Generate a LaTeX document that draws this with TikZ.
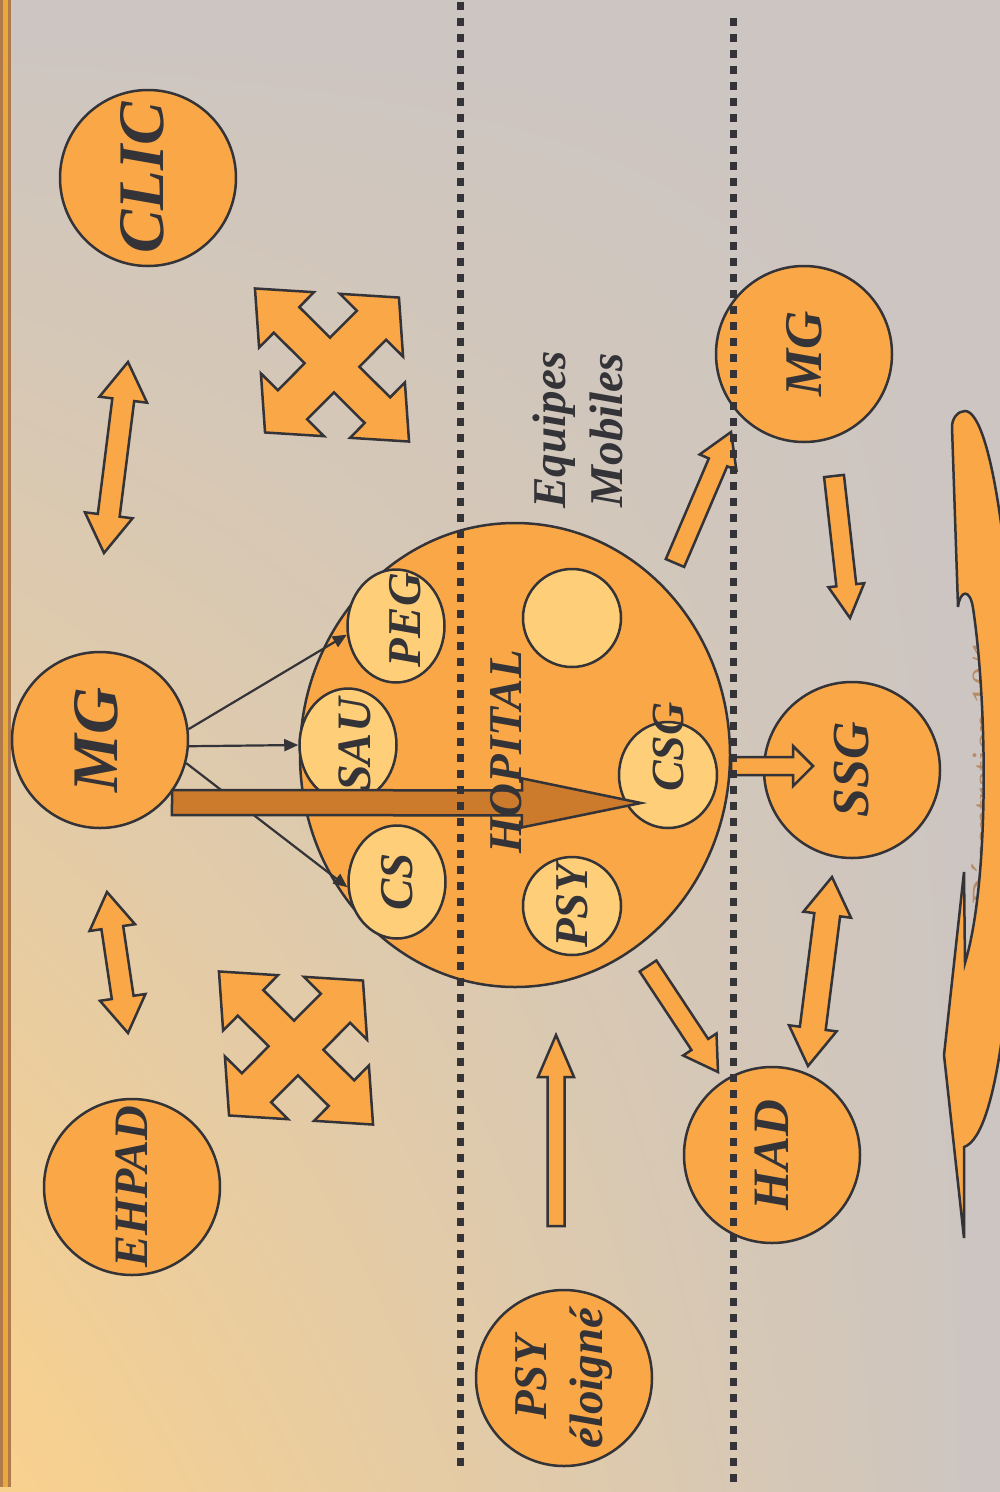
\documentclass[tikz,border=0pt]{standalone}
\usepackage{fontspec}
\setmainfont{Liberation Serif}
\usetikzlibrary{calc,shapes.geometric,arrows.meta,shadings}
\definecolor{bgGrey}{HTML}{CCC5C2}
\definecolor{bgOrange}{HTML}{F9D18D}
\definecolor{ringOrange}{HTML}{FAA747}
\definecolor{ringYellow}{HTML}{FECE78}
\definecolor{lineDark}{HTML}{333338}
\definecolor{arrowBrown}{HTML}{CC7A2B}
\definecolor{barBrown}{HTML}{B07A4C}
\definecolor{barGold}{HTML}{E8AA3A}
\definecolor{footBrown}{HTML}{B88A66}
\newcommand{\fatarrow}[6][blockarrow]{
	\path ($(#3)!#6!(#2)$) coordinate (fa-h);
	\filldraw[#1] ($(#2)!#4!90:(#3)$) -- ($(fa-h)!#4!90:(#3)$) -- ($(fa-h)!#5!90:(#3)$) -- (#3)
		-- ($(fa-h)!#5!-90:(#3)$) -- ($(fa-h)!#4!-90:(#3)$) -- ($(#2)!#4!-90:(#3)$) -- cycle;
}
\newcommand{\fatdblarrow}[5]{
	\path ($(#1)!#5!(#2)$) coordinate (fa-a) ($(#2)!#5!(#1)$) coordinate (fa-b);
	\filldraw[blockarrow] (#1) -- ($(fa-a)!#4!90:(#2)$) -- ($(fa-a)!#3!90:(#2)$)
		-- ($(fa-b)!#3!90:(#2)$) -- ($(fa-b)!#4!90:(#2)$) -- (#2)
		-- ($(fa-b)!#4!-90:(#2)$) -- ($(fa-b)!#3!-90:(#2)$)
		-- ($(fa-a)!#3!-90:(#2)$) -- ($(fa-a)!#4!-90:(#2)$) -- cycle;
}
\newcommand{\crossarrows}[1]{
	\begin{scope}[shift={(#1)}, cm={1,-0.063,-0.07,1,(0,0)}, scale=72]
	\filldraw[blockarrow] (-1,1) -- (-0.18,1) -- (-0.4,0.78) -- (0,0.38) -- (0.4,0.78) -- (0.18,1)
		-- (1,1) -- (1,0.18) -- (0.78,0.4) -- (0.38,0) -- (0.78,-0.4) -- (1,-0.18)
		-- (1,-1) -- (0.18,-1) -- (0.4,-0.78) -- (0,-0.38) -- (-0.4,-0.78) -- (-0.18,-1)
		-- (-1,-1) -- (-1,-0.18) -- (-0.78,-0.4) -- (-0.38,0) -- (-0.78,0.4) -- (-1,0.18) -- cycle;
	\end{scope}
}
\tikzset{
	bigring/.style={circle, draw=lineDark, fill=ringOrange, line width=2.5pt, minimum size=176pt, inner sep=0pt},
	smallring/.style={ellipse, draw=lineDark, fill=ringYellow, line width=2.5pt, inner sep=0pt},
	lbl/.style={rotate=90, text=lineDark, inner sep=0pt, align=center,
		font=\bfseries\itshape\fontsize{#1}{\fpeval{1.2*#1}}\selectfont},
	lbl/.default=47,
	blockarrow/.style={fill=ringOrange, draw=lineDark, line width=2.5pt},
	brownarrow/.style={fill=arrowBrown, draw=lineDark, line width=2.5pt},
	thinarrow/.style={draw=lineDark, line width=2.2pt, -{Triangle[length=14pt,width=12pt]}},
	dotline/.style={draw=lineDark, line width=7pt, dash pattern=on 8pt off 8pt},
	foottext/.style={rotate=90, text=footBrown, inner sep=0pt, font=\fontsize{37}{40}\selectfont}
}
\begin{document}
\begin{tikzpicture}[x=1pt,y=-1pt]
	\useasboundingbox (0,0) rectangle (1000,1492);
	% background and side bar
	\shade[upper left=bgGrey, upper right=bgGrey, lower left=bgOrange, lower right=bgGrey] (0,0) rectangle (1000,1492);
	\fill[barBrown] (0,0) rectangle (11,1487);
	\fill[barGold] (3,0) rectangle (8,1487);

	% footer behind the curved arrow
	\node[foottext, anchor=base west] (footer) at (997,905) {Décentration 10/1};
	\filldraw[blockarrow] (952,427) -- (958,607) .. controls (960,590) and (970,588) .. (973,608)
		.. controls (987,700) and (990,880) .. (965,963) -- (964,872) -- (944,1055) -- (964,1238) -- (964,1147)
		.. controls (1000,1135) and (1016,960) .. (1016,780) .. controls (1016,580) and (992,411) .. (965,411)
		.. controls (958,411) and (952,418) .. cycle;

	% hospital and its services
	\node[ellipse, draw=lineDark, fill=ringOrange, line width=2.5pt, minimum width=430pt, minimum height=464pt] (hopital) at (515,755) {};
	\node[smallring, minimum width=97pt, minimum height=113pt, label={[lbl, xshift=6pt, yshift=-9pt]center:PEG}] (peg) at (396,626) {};
	\node[smallring, minimum width=97pt, minimum height=113pt, label={[lbl=48, yshift=-7pt]center:SAU}] (sau) at (348,745) {};
	\node[smallring, minimum width=97pt, minimum height=113pt, label={[lbl]center:CS}] (cs) at (397,882) {};
	\node[smallring, minimum width=98pt, minimum height=106pt, label={[lbl=46, xshift=28pt]center:CSG}] (csg) at (668,775) {};
	\node[smallring, minimum width=98pt, minimum height=98pt, label={[lbl]center:PSY}] (psy) at (572,906) {};
	\node[smallring, minimum width=98pt, minimum height=98pt] (spare) at (572,618) {};

	% partners
	\node[bigring, label={[lbl=65, yshift=6pt]center:CLIC}] (clic) at (148,178) {};
	\node[bigring, label={[lbl=65, yshift=4pt]center:MG}] (mg) at (100,740) {};
	\node[bigring, label={[lbl=48]center:EHPAD}] (ehpad) at (132,1187) {};
	\node[bigring, label={[lbl=53]center:MG}] (mgville) at (804,354) {};
	\node[bigring, label={[lbl=52]center:SSG}] (ssg) at (852,770) {};
	\node[bigring, label={[lbl=51]center:HAD}] (had) at (772,1155) {};
	\node[bigring, label={[lbl=47]center:PSY\\éloigné}] (psyloin) at (564,1378) {};

	% block arrows
	\coordinate (clicend) at (128,362);
	\coordinate (mgtop) at (104,553);
	\coordinate (mgbottom) at (107,892);
	\coordinate (ehpadend) at (128,1033);
	\coordinate (ssgtop) at (832,877);
	\coordinate (hadtop) at (808,1066);
	\coordinate (mgvtail) at (834,476);
	\coordinate (mgvtip) at (850,618);
	\coordinate (hoptail) at (675,563);
	\coordinate (hoptip) at (731,432);
	\coordinate (hadtail) at (648,966);
	\coordinate (hadtip) at (718,1072);
	\coordinate (csgtail) at (731,766);
	\coordinate (csgtip) at (813,766);
	\coordinate (lointail) at (556,1226);
	\coordinate (lointip) at (556,1035);
	\fatdblarrow{clicend}{mgtop}{11pt}{24pt}{38pt}
	\fatdblarrow{mgbottom}{ehpadend}{11pt}{23pt}{36pt}
	\fatdblarrow{ssgtop}{hadtop}{13pt}{24pt}{38pt}
	\fatarrow{mgvtail}{mgvtip}{10pt}{18pt}{33pt}
	\fatarrow{hoptail}{hoptip}{10pt}{20pt}{33pt}
	\fatarrow{hadtail}{hadtip}{10pt}{20pt}{33pt}
	\fatarrow{csgtail}{csgtip}{9pt}{20pt}{20pt}
	\fatarrow{lointail}{lointip}{8.5pt}{18pt}{42pt}
	\crossarrows{332,365}
	\crossarrows{296,1048}

	% GP towards the services
	\draw[thinarrow] (mg.7) -- (peg.190);
	\draw[thinarrow] (mg.-4) -- (sau.west);
	\draw[thinarrow] (mg.-15) -- (cs.186);
	\coordinate (browntail) at (172,802.5);
	\coordinate (browntip) at (641,803);
	\fatarrow[brownarrow]{browntail}{browntip}{12.5pt}{24.5pt}{119pt}

	% limits
	\draw[dotline] (460,2) -- (460,1466);
	\draw[dotline] (733,18) -- (733,1482);

	\node[lbl] (hoplabel) at (506,752) {HOPITAL};
	\node[lbl] (equipes) at (578,430) {Equipes\\Mobiles};
\end{tikzpicture}
\end{document}
